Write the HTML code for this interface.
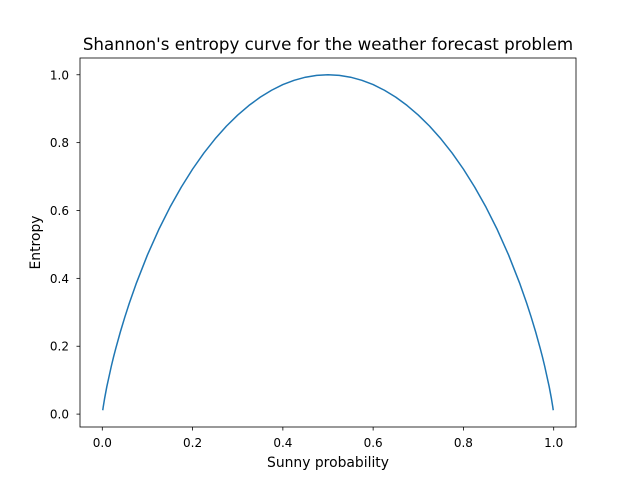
<!DOCTYPE html>
<html><head><meta charset="utf-8"><style>
body{margin:0;background:#fff;}
text{font-family:"DejaVu Sans","Liberation Sans",sans-serif;fill:#000;}
</style></head><body>
<svg id="chart" width="640" height="480" viewBox="0 0 640 480" xmlns="http://www.w3.org/2000/svg">
<rect width="640" height="480" fill="#fff"/>
<text x="328" y="50" font-size="16.7" text-anchor="middle">Shannon's entropy curve for the weather forecast problem</text>
<g id="axes"></g>
<text x="328" y="467" font-size="13.9" text-anchor="middle">Sunny probability</text>
<text transform="translate(40,242.5) rotate(-90)" font-size="13.9" text-anchor="middle">Entropy</text>
</svg>
<script>
const pValues=[0.001,0.002,0.005,0.01,0.02,0.025,0.03,0.04,0.05,0.06,0.075,0.1,0.125,0.15,0.175,0.2,0.225,0.25,0.275,0.3,0.325,0.35,0.375,0.4,0.425,0.45,0.475,0.5,
0.525,0.55,0.575,0.6,0.625,0.65,0.675,0.7,0.725,0.75,0.775,0.8,0.825,0.85,0.875,0.9,0.925,0.94,0.95,0.96,0.97,0.975,0.98,0.99,0.995,0.998,0.999];
const entropyValues=[0.0114,0.0208,0.0454,0.0808,0.1414,0.1687,0.1944,0.2423,0.2864,0.3274,0.3843,0.469,0.5436,0.6098,0.6690,0.7219,0.7692,0.8113,0.8486,0.8813,0.9097,0.9341,0.9544,0.971,0.9837,0.9928,0.9982,1.0,
0.9982,0.9928,0.9837,0.971,0.9544,0.9341,0.9097,0.8813,0.8486,0.8113,0.7692,0.7219,0.6690,0.6098,0.5436,0.469,0.3843,0.3274,0.2864,0.2423,0.1944,0.1687,0.1414,0.0808,0.0454,0.0208,0.0114];
const xTicks=[0,0.2,0.4,0.6,0.8,1.0];
const xTickLabels=["0.0","0.2","0.4","0.6","0.8","1.0"];
const yTicks=[0,0.2,0.4,0.6,0.8,1.0];
const yTickLabels=["0.0","0.2","0.4","0.6","0.8","1.0"];

const L=80,R=576,T=58,B=427;
const xmin=-0.0494,xmax=1.0494,ymin=-0.0380,ymax=1.0494;
const sx=v=>L+(v-xmin)/(xmax-xmin)*(R-L);
const sy=v=>B-(v-ymin)/(ymax-ymin)*(B-T);
const NS="http://www.w3.org/2000/svg";
const g=document.getElementById('axes');
function mk(t,a){const e=document.createElementNS(NS,t);for(const k in a)e.setAttribute(k,a[k]);g.appendChild(e);return e;}

const d=pValues.map((p,i)=>(i?'L':'M')+sx(p).toFixed(2)+','+sy(entropyValues[i]).toFixed(2)).join(' ');
const line=mk('path',{d:d,fill:'none',stroke:'#1f77b4','stroke-width':1.5,'stroke-linejoin':'round'});



const frame=mk('rect',{x:L,y:T,width:R-L,height:B-T,fill:'none',stroke:'#000','stroke-width':0.8});



xTicks.forEach((v,i)=>{
  const x=sx(v);
  const t=mk('line',{x1:x,x2:x,y1:B,y2:B+3.5,stroke:'#000','stroke-width':0.8});
  
  
  const l=mk('text',{x:x,y:B+20,'font-size':12,'text-anchor':'middle'});
  l.textContent=xTickLabels[i];
  
  
});
yTicks.forEach((v,i)=>{
  const y=sy(v);
  const t=mk('line',{x1:L-3.5,x2:L,y1:y,y2:y,stroke:'#000','stroke-width':0.8});
  
  
  const l=mk('text',{x:L-11,y:y+4.5,'font-size':12,'text-anchor':'end'});
  l.textContent=yTickLabels[i];
  
  
});
</script>
</body></html>
